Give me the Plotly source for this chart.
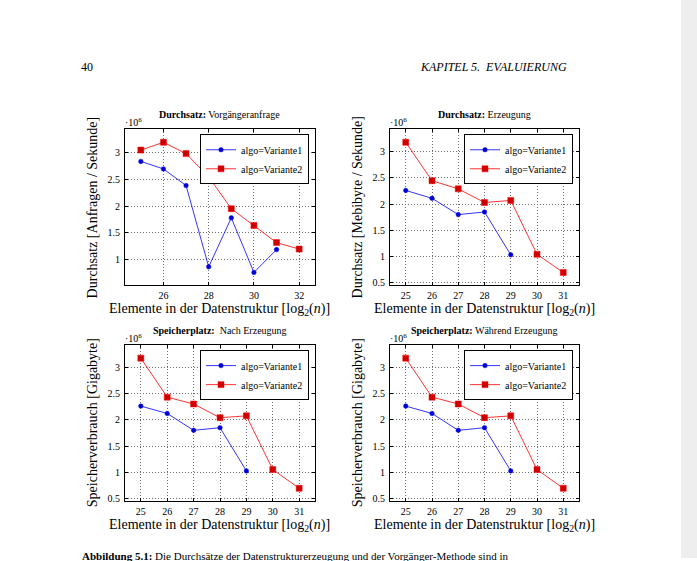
import plotly.graph_objects as go

W, H = 697, 561
FONT = "Liberation Serif, DejaVu Serif, serif"

# ---------------- data (values in units of 10^6) ----------------
elemente_vorg_v1 = [25, 26, 27, 28, 29, 30, 31]
durchsatz_vorg_v1 = [2.83, 2.69, 2.38, 0.87, 1.78, 0.765, 1.19]
elemente_vorg_v2 = [25, 26, 27, 28, 29, 30, 31, 32]
durchsatz_vorg_v2 = [3.04, 3.185, 2.975, 2.54, 1.95, 1.64, 1.32, 1.20]

elemente_erz_v1 = [25, 26, 27, 28, 29]
durchsatz_erz_v1 = [2.26, 2.11, 1.80, 1.85, 1.035]
elemente_erz_v2 = [25, 26, 27, 28, 29, 30, 31]
durchsatz_erz_v2 = [3.175, 2.445, 2.29, 2.03, 2.07, 1.045, 0.70]

elemente_nach_v1 = [25, 26, 27, 28, 29]
speicher_nach_v1 = [2.26, 2.12, 1.80, 1.85, 1.03]
elemente_nach_v2 = [25, 26, 27, 28, 29, 30, 31]
speicher_nach_v2 = [3.17, 2.43, 2.30, 2.04, 2.075, 1.055, 0.70]

elemente_waehr_v1 = [25, 26, 27, 28, 29]
speicher_waehr_v1 = [2.26, 2.12, 1.80, 1.85, 1.03]
elemente_waehr_v2 = [25, 26, 27, 28, 29, 30, 31]
speicher_waehr_v2 = [3.17, 2.43, 2.30, 2.04, 2.075, 1.055, 0.70]

serie_namen = ["algo=Variante1", "algo=Variante2"]

titel = ["<b>Durchsatz:</b> Vorgängeranfrage",
         "<b>Durchsatz:</b> Erzeugung",
         "<b>Speicherplatz:</b>  Nach Erzeugung",
         "<b>Speicherplatz:</b> Während Erzeugung"]
y_titel = ["Durchsatz [Anfragen / Sekunde]",
           "Durchsatz [Mebibyte / Sekunde]",
           "Speicherverbrauch [Gigabyte]",
           "Speicherverbrauch [Gigabyte]"]
x_titel = "Elemente in der Datenstruktur [log<sub>2</sub>(<i>n</i>)]"
x_dtick = [2, 1, 1, 1]
y_ticks = [[1, 1.5, 2, 2.5, 3],
           [0.5, 1, 1.5, 2, 2.5, 3],
           [0.5, 1, 1.5, 2, 2.5, 3],
           [0.5, 1, 1.5, 2, 2.5, 3]]

panels = [
    (elemente_vorg_v1, durchsatz_vorg_v1, elemente_vorg_v2, durchsatz_vorg_v2),
    (elemente_erz_v1, durchsatz_erz_v1, elemente_erz_v2, durchsatz_erz_v2),
    (elemente_nach_v1, speicher_nach_v1, elemente_nach_v2, speicher_nach_v2),
    (elemente_waehr_v1, speicher_waehr_v1, elemente_waehr_v2, speicher_waehr_v2),
]

# ---------------- layout (pixel boxes) ----------------
boxes = [(125, 315, 130, 287), (390, 579, 130, 287),
         (125, 315, 347, 504), (390, 579, 347, 504)]


def px(x):
    return x / W


def py(y):
    return 1 - y / H


fig = go.Figure()
annotations = []
shapes = []
layout = {}

for i, ((x1, y1, x2, y2), (l, r, t, b)) in enumerate(zip(panels, boxes)):
    n = i + 1
    xa = "x" if n == 1 else f"x{n}"
    ya = "y" if n == 1 else f"y{n}"
    lg = "legend" if n == 1 else f"legend{n}"
    fig.add_trace(go.Scatter(
        x=x1, y=y1, mode="lines+markers", name=serie_namen[0],
        line=dict(color="rgb(0,0,255)", width=0.8),
        marker=dict(symbol="circle", size=4.5, color="rgb(0,0,204)",
                    line=dict(color="rgb(0,0,255)", width=0.5)),
        xaxis=xa, yaxis=ya, legend=lg))
    fig.add_trace(go.Scatter(
        x=x2, y=y2, mode="lines+markers", name=serie_namen[1],
        line=dict(color="rgb(255,0,0)", width=0.8),
        marker=dict(symbol="square", size=6, color="rgb(204,0,0)",
                    line=dict(color="rgb(255,0,0)", width=0.5)),
        xaxis=xa, yaxis=ya, legend=lg))

    allx = list(x1) + list(x2)
    ally = list(y1) + list(y2)
    xr = max(allx) - min(allx)
    yr = max(ally) - min(ally)
    axis_common = dict(
        showline=True, linecolor="black", linewidth=1, mirror="ticks",
        ticks="inside", ticklen=3, tickcolor="black", tickwidth=0.8,
        showgrid=True, gridcolor="rgb(110,110,110)", gridwidth=0.8,
        griddash="1px,2px", zeroline=False,
        tickfont=dict(family=FONT, size=10, color="black"),
    )
    layout["xaxis" if n == 1 else f"xaxis{n}"] = dict(
        axis_common, domain=[px(l), px(r)],
        range=[min(allx) - 0.1 * xr, max(allx) + 0.1 * xr],
        dtick=x_dtick[i], tick0=0, anchor=ya, ticklabelstandoff=1)
    layout["yaxis" if n == 1 else f"yaxis{n}"] = dict(
        axis_common, domain=[py(b), py(t)],
        range=[min(ally) - 0.1 * yr, max(ally) + 0.1 * yr],
        tickvals=y_ticks[i], ticktext=[f"{v:g}" for v in y_ticks[i]],
        anchor=xa, ticklabelstandoff=2)
    layout[lg] = dict(
        x=px(r - 6), y=py(t + 5), xanchor="right", yanchor="top",
        xref="paper", yref="paper",
        bgcolor="white", bordercolor="black", borderwidth=1,
        font=dict(family="Liberation Serif", size=10, color="black"),
        tracegroupgap=0, itemwidth=30)

    cx = (l + r) / 2
    annotations.append(dict(x=px(cx), y=py(t - 15), xref="paper", yref="paper",
                            text=titel[i], showarrow=False,
                            xanchor="center", yanchor="middle",
                            font=dict(family=FONT, size=10, color="black")))
    annotations.append(dict(x=px(l - 2), y=py(t - 7), xref="paper", yref="paper",
                            text="·10<sup>6</sup>", showarrow=False,
                            xanchor="left", yanchor="middle",
                            font=dict(family=FONT, size=10, color="black")))
    annotations.append(dict(x=px(cx), y=py(b + 24), xref="paper", yref="paper",
                            text=x_titel, showarrow=False,
                            xanchor="center", yanchor="middle",
                            font=dict(family=FONT, size=14, color="black")))
    annotations.append(dict(x=px(l - 33), y=py((t + b) / 2), xref="paper", yref="paper",
                            text=y_titel[i], showarrow=False, textangle=-90,
                            xanchor="center", yanchor="middle",
                            font=dict(family=FONT, size=14, color="black")))

# page furniture
annotations.append(dict(x=px(79), y=py(67), xref="paper", yref="paper",
                        text="40", showarrow=False, xanchor="left", yanchor="middle",
                        font=dict(family=FONT, size=12, color="black")))
annotations.append(dict(x=px(569), y=py(67), xref="paper", yref="paper",
                        text="<i>KAPITEL 5.  EVALUIERUNG</i>", showarrow=False,
                        xanchor="right", yanchor="middle",
                        font=dict(family=FONT, size=12, color="black")))
annotations.append(dict(x=px(80), y=py(551), xref="paper", yref="paper",
                        text="<b>Abbildung 5.1:</b> Die Durchsätze der Datenstrukturerzeugung und der Vorgänger-Methode sind in",
                        showarrow=False, xanchor="left", yanchor="top",
                        font=dict(family=FONT, size=11, color="black")))
shapes.append(dict(type="rect", xref="paper", yref="paper",
                   x0=px(681), x1=1, y0=0, y1=1,
                   fillcolor="#eeeeee", line=dict(width=0), layer="below"))

fig.update_layout(
    width=W, height=H, margin=dict(l=0, r=0, t=0, b=0),
    paper_bgcolor="white", plot_bgcolor="white",
    font=dict(family=FONT, color="black"),
    annotations=annotations, shapes=shapes, **layout)

fig.write_html("out.html",
               config={"displayModeBar": False},
               post_script="document.body.style.margin='0';"
                           "document.body.style.overflow='hidden';")
